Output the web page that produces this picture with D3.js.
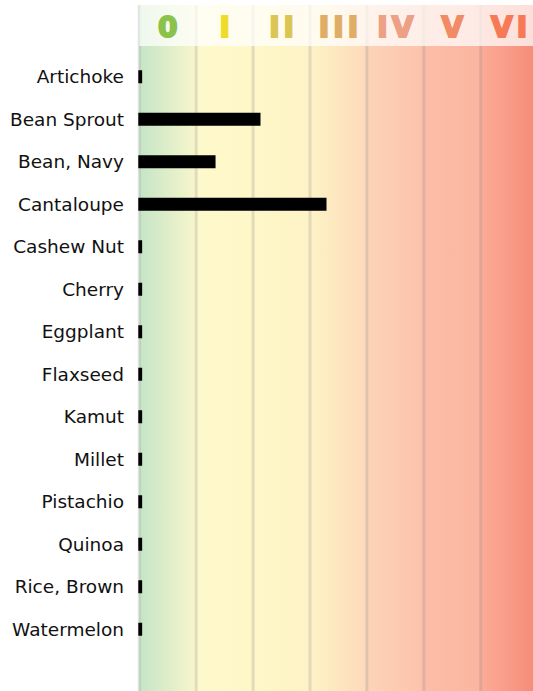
<!DOCTYPE html>
<html>
<head>
<meta charset="utf-8">
<script src="https://cdn.jsdelivr.net/npm/d3@7"></script>
<style>
  body { margin: 0; background: #fff; }
  svg { display: block; font-family: "DejaVu Sans", sans-serif; }
</style>
</head>
<body>
<div id="chart"></div>
<script>
// data
const foods = ['Artichoke', 'Bean Sprout', 'Bean, Navy', 'Cantaloupe', 'Cashew Nut', 'Cherry',
  'Eggplant', 'Flaxseed', 'Kamut', 'Millet', 'Pistachio', 'Quinoa', 'Rice, Brown', 'Watermelon']
const values = [0.05, 2.13, 1.34, 3.29, 0.05, 0.05, 0.05, 0.05, 0.05, 0.05, 0.05, 0.05, 0.05, 0.05]
const levels = ['0', 'I', 'II', 'III', 'IV', 'V', 'VI']
const levelColors = ['#8bc34a', '#efdc2a', '#dcc552', '#e0ad66', '#eca085', '#f08b66', '#f77a58']

const width = 533
const height = 691
const left = 139.3
const colW = 56.9
const headTop = 5
const headBottom = 46

const svg = d3.select('#chart')
  .append('svg')
  .attr('width', width)
  .attr('height', height)

const x = d3.scaleLinear()
  .domain([0, levels.length])
  .range([left, left + colW * levels.length])

const y = d3.scaleBand()
  .domain(foods)
  .range([55.5, 55.5 + 42.5 * foods.length])

// background gradient across the levels
const grad = svg.append('defs').append('linearGradient')
  .attr('id', 'bg')
  .attr('gradientUnits', 'userSpaceOnUse')
  .attr('x1', x(0)).attr('x2', x(7))
  .attr('y1', 0).attr('y2', 0)

const stops = [
  [0, '#c5e5c6'], [0.95, '#f5f5cc'], [1, '#fef9cc'], [2, '#fef7c8'],
  [3, '#fef3c6'], [3.98, '#fddaba'], [4, '#fdd4b8'], [4.98, '#fcc2ac'],
  [5, '#fcbea8'], [5.98, '#fbb5a0'], [6, '#fbac97'], [7, '#f58a76']
]
grad.selectAll('stop')
  .data(stops)
  .enter()
  .append('stop')
  .attr('offset', d => d[0] / 7)
  .attr('stop-color', d => d[1])

svg.append('rect')
  .attr('x', x(0))
  .attr('y', headTop)
  .attr('width', x(7) - x(0))
  .attr('height', height - headTop)
  .attr('fill', 'url(#bg)')

// grid lines
svg.selectAll('.grid')
  .data(d3.range(0, 7))
  .enter()
  .append('line')
  .attr('class', 'grid')
  .attr('x1', d => x(d)).attr('x2', d => x(d))
  .attr('y1', headTop).attr('y2', height)
  .attr('stroke', 'rgba(140,140,140,0.25)')
  .attr('stroke-width', 3)

// faded header band
svg.append('rect')
  .attr('x', x(0))
  .attr('y', headTop)
  .attr('width', x(7) - x(0))
  .attr('height', headBottom - headTop)
  .attr('fill', '#fff')
  .attr('opacity', 0.72)

svg.selectAll('.level')
  .data(levels)
  .enter()
  .append('text')
  .attr('class', 'level')
  .attr('x', (d, i) => x(i + 0.5) + 2)
  .attr('y', 37)
  .attr('text-anchor', 'middle')
  .attr('font-size', 28)
  .attr('font-weight', 'bold')
  .attr('letter-spacing', 4)
  .attr('fill', (d, i) => levelColors[i])
  .attr('stroke', (d, i) => levelColors[i])
  .attr('stroke-width', 2)
  .text(d => d)

// bars
svg.selectAll('.bar')
  .data(foods)
  .enter()
  .append('rect')
  .attr('class', 'bar')
  .attr('x', x(0) - 1)
  .attr('y', d => y(d) + y.bandwidth() / 2 - 6.5)
  .attr('width', (d, i) => x(values[i]) - x(0) + 1)
  .attr('height', 13)
  .attr('fill', '#000')

// category labels
svg.selectAll('.label')
  .data(foods)
  .enter()
  .append('text')
  .attr('class', 'label')
  .attr('x', 124)
  .attr('y', d => y(d) + y.bandwidth() / 2)
  .attr('dy', '0.35em')
  .attr('text-anchor', 'end')
  .attr('font-size', 18.5)
  .attr('fill', '#111')
  .text(d => d)
</script>
</body>
</html>
